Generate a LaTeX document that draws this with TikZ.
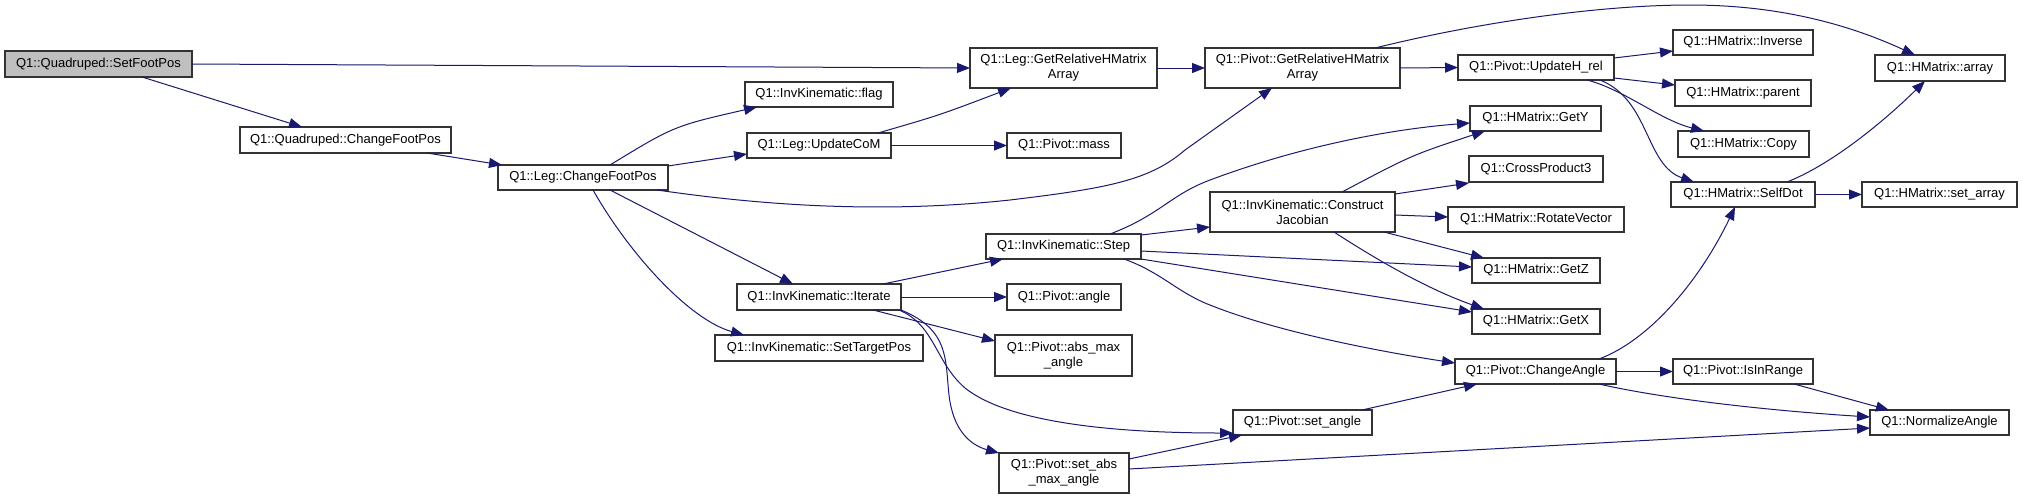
\documentclass[tikz,border=0pt]{standalone}
\usepackage{fontspec}
\setmainfont{Liberation Sans}
\usetikzlibrary{arrows.meta}
\definecolor{edgec}{HTML}{191970}
\definecolor{rootc}{HTML}{BFBFBF}
\definecolor{boxc}{HTML}{333333}
\begin{document}
\begin{tikzpicture}[x=1pt,y=-1pt,
  fn/.style={draw=boxc, fill=white, line width=1.2pt, rectangle, inner sep=0pt, outer sep=0pt,
    align=center, font=\fontsize{13}{15}\selectfont},
  rootfn/.style={fn, fill=rootc},
  e/.style={draw=edgec, line width=1pt, -{Triangle[length=13pt,width=10pt]}}]
\useasboundingbox (0,0) rectangle (2023,499);
\fill[white] (0,0) rectangle (2023,499);
% nodes
\node[rootfn, minimum width=187pt, minimum height=26pt] (sfp) at (98.5,64) {Q1::Quadruped::SetFootPos};
\node[fn, minimum width=211pt, minimum height=26pt] (qcfp) at (345.5,140) {Q1::Quadruped::ChangeFootPos};
\node[fn, minimum width=170pt, minimum height=25pt] (lcfp) at (583,177.5) {Q1::Leg::ChangeFootPos};
\node[fn, minimum width=148pt, minimum height=25pt] (flag) at (819,94.5) {Q1::InvKinematic::flag};
\node[fn, minimum width=144pt, minimum height=25pt] (ucom) at (819,145.5) {Q1::Leg::UpdateCoM};
\node[fn, minimum width=164pt, minimum height=26pt] (iter) at (819,297) {Q1::InvKinematic::Iterate};
\node[fn, minimum width=208pt, minimum height=26pt] (stp) at (819,348) {Q1::InvKinematic::SetTargetPos};
\node[fn, minimum width=187pt, minimum height=40pt] (lgr) at (1063.5,68) {Q1::Leg::GetRelativeHMatrix\\Array};
\node[fn, minimum width=114pt, minimum height=25pt] (mass) at (1064,145.5) {Q1::Pivot::mass};
\node[fn, minimum width=155pt, minimum height=25pt] (step) at (1063.5,246.5) {Q1::InvKinematic::Step};
\node[fn, minimum width=114pt, minimum height=26pt] (angle) at (1064,297) {Q1::Pivot::angle};
\node[fn, minimum width=137pt, minimum height=41pt] (absmax) at (1063.5,355.5) {Q1::Pivot::abs\_max\\\_angle};
\node[fn, minimum width=130pt, minimum height=40pt] (setabs) at (1064,473) {Q1::Pivot::set\_abs\\\_max\_angle};
\node[fn, minimum width=195pt, minimum height=40pt] (pgr) at (1302.5,68) {Q1::Pivot::GetRelativeHMatrix\\Array};
\node[fn, minimum width=185pt, minimum height=40pt] (cj) at (1302.5,212) {Q1::InvKinematic::Construct\\Jacobian};
\node[fn, minimum width=139pt, minimum height=25pt] (seta) at (1302.5,422.5) {Q1::Pivot::set\_angle};
\node[fn, minimum width=156pt, minimum height=25pt] (uhr) at (1536,67.5) {Q1::Pivot::UpdateH\_rel};
\node[fn, minimum width=131pt, minimum height=25pt] (gety) at (1535.5,118.5) {Q1::HMatrix::GetY};
\node[fn, minimum width=134pt, minimum height=26pt] (cp3) at (1536,169) {Q1::CrossProduct3};
\node[fn, minimum width=176pt, minimum height=25pt] (rotv) at (1536,219.5) {Q1::HMatrix::RotateVector};
\node[fn, minimum width=128pt, minimum height=25pt] (getz) at (1536,270.5) {Q1::HMatrix::GetZ};
\node[fn, minimum width=128pt, minimum height=25pt] (getx) at (1536,321.5) {Q1::HMatrix::GetX};
\node[fn, minimum width=161pt, minimum height=25pt] (cha) at (1535.5,371.5) {Q1::Pivot::ChangeAngle};
\node[fn, minimum width=140pt, minimum height=25pt] (inv) at (1743,42.5) {Q1::HMatrix::Inverse};
\node[fn, minimum width=136pt, minimum height=26pt] (par) at (1743,93) {Q1::HMatrix::parent};
\node[fn, minimum width=131pt, minimum height=26pt] (copy) at (1743.5,144) {Q1::HMatrix::Copy};
\node[fn, minimum width=144pt, minimum height=25pt] (sd) at (1743,194.5) {Q1::HMatrix::SelfDot};
\node[fn, minimum width=140pt, minimum height=25pt] (iir) at (1743,371.5) {Q1::Pivot::IsInRange};
\node[fn, minimum width=130pt, minimum height=26pt] (arr) at (1940,68) {Q1::HMatrix::array};
\node[fn, minimum width=155pt, minimum height=25pt] (seta2) at (1939.5,194.5) {Q1::HMatrix::set\_array};
\node[fn, minimum width=139pt, minimum height=25pt] (na) at (1939.5,422.5) {Q1::NormalizeAngle};
% edges
\draw[e] (sfp.east) -- (lgr.west);
\draw[e] ([xshift=43.5pt]sfp.south) -- ([xshift=-43.5pt]qcfp.north);
\draw[e] ([xshift=81.5pt]qcfp.south) -- ([xshift=4pt]lcfp.north west);
\draw[e] ([xshift=27pt]lcfp.north) .. controls (674,126) .. ([xshift=12pt]flag.south west);
\draw[e] ([yshift=11.5pt]lcfp.east) -- ([yshift=-8.5pt]ucom.west);
\draw[e] ([xshift=-11pt]lcfp.south east) .. controls (760,205) and (880,214) .. (1010,200)
   .. controls (1110,188) and (1150,180) .. (1185,150) -- ([xshift=-30.5pt]pgr.south);
\draw[e] ([xshift=27pt]lcfp.south) -- ([xshift=-26pt]iter.north);
\draw[e] ([xshift=10pt]lcfp.south) .. controls (630,255) and (690,320) .. ([xshift=29pt]stp.north west);
\draw[e] ([xshift=59pt]ucom.north) .. controls (940,115) .. ([xshift=-52.5pt]lgr.south);
\draw[e] (ucom.east) -- (mass.west);
\draw[e] (lgr.east) -- (pgr.west);
\draw[e] (pgr.east) -- (uhr.west);
\draw[e] ([xshift=72.5pt]pgr.north) .. controls (1480,22) and (1600,5) .. (1690,5)
   .. controls (1780,5) and (1850,25) .. ([xshift=-25pt]arr.north);
\draw[e] ([yshift=9.5pt]uhr.east) -- ([yshift=-8.5pt]inv.west);
\draw[e] ([yshift=-10.5pt]uhr.east) -- ([yshift=8pt]par.west);
\draw[e] ([xshift=51pt]uhr.south) .. controls (1625,90) and (1660,120) .. ([xshift=-39.5pt]copy.north);
\draw[e] ([xshift=64pt]uhr.south) .. controls (1650,100) and (1645,165) .. ([xshift=-49pt]sd.north);
\draw[e] ([xshift=44pt]sd.north) .. controls (1830,165) and (1880,125) .. ([xshift=-15pt]arr.south);
\draw[e] (sd.east) -- (seta2.west);
\draw[e] ([xshift=64pt]iter.north) -- ([xshift=17pt]step.south west);
\draw[e] (iter.east) -- (angle.west);
\draw[e] ([xshift=54pt]iter.south) -- ([yshift=-6pt]absmax.north west);
\draw[e] ([xshift=-2pt]iter.south east) .. controls (935,325) and (935,362) .. (965,388)
   .. controls (1005,420) and (1100,433) .. ([yshift=-10.5pt]seta.west);
\draw[e] (iter.south east) .. controls (950,330) and (945,360) .. (949,395)
   .. controls (953,430) and (970,445) .. (setabs.north west);
\draw[e] ([yshift=14pt]setabs.east) -- ([xshift=9pt]seta.south west);
\draw[e] ([yshift=4pt]setabs.east) -- ([yshift=-5.5pt]na.west);
\draw[e] ([xshift=59.5pt]seta.north) -- ([xshift=22pt]cha.south west);
\draw[e] ([yshift=11.5pt]step.east) -- ([yshift=-15pt]cj.west);
\draw[e] ([xshift=46.5pt]step.north) .. controls (1160,215) and (1170,195) .. (1210,180)
   .. controls (1290,150) and (1380,130) .. ([yshift=-4.5pt]gety.west);
\draw[e] ([xshift=39.5pt]cj.north) .. controls (1412,155) .. ([xshift=15pt]gety.south west);
\draw[e] ([yshift=18pt]cj.east) -- ([yshift=-14pt]cp3.west);
\draw[e] ([yshift=-3pt]cj.east) -- ([yshift=2.5pt]rotv.west);
\draw[e] ([xshift=-11pt]cj.south east) -- ([xshift=12pt]getz.north west);
\draw[e] ([xshift=31.5pt]cj.south) .. controls (1380,262) and (1430,290) .. ([xshift=12pt]getx.north west);
\draw[e] ([yshift=-4.5pt]step.east) -- ([yshift=3.5pt]getz.west);
\draw[e] (step.south east) -- ([yshift=9.5pt]getx.west);
\draw[e] ([xshift=-17pt]step.south east) .. controls (1160,272) and (1175,290) .. (1205,303)
   .. controls (1270,330) and (1370,350) .. ([yshift=8.5pt]cha.west);
\draw[e] ([xshift=63.5pt]cha.north) .. controls (1650,340) and (1700,280) .. ([xshift=-8pt]sd.south);
\draw[e] (cha.east) -- (iir.west);
\draw[e] ([xshift=63.5pt]cha.south) .. controls (1660,398) and (1760,410) .. ([yshift=5.5pt]na.west);
\draw[e] ([xshift=51pt]iir.south) -- ([xshift=19pt]na.north west);
\end{tikzpicture}
\end{document}
